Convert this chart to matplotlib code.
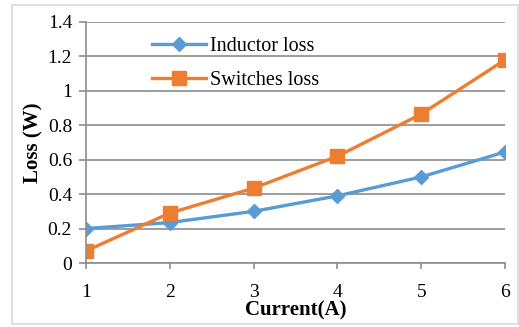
import matplotlib
matplotlib.use("Agg")
import matplotlib.pyplot as plt
from matplotlib.patches import Rectangle

current = [1, 2, 3, 4, 5, 6]
inductor_loss = [0.20, 0.235, 0.30, 0.39, 0.50, 0.645]
switches_loss = [0.07, 0.29, 0.435, 0.62, 0.865, 1.18]
y_ticks = [0, 0.2, 0.4, 0.6, 0.8, 1, 1.2, 1.4]
y_labels = ["0", "0.2", "0.4", "0.6", "0.8", "1", "1.2", "1.4"]

BLUE = "#5B9BD5"
ORANGE = "#ED7D31"
GRID = "#8C8C8C"


def main():
    plt.rcParams["font.family"] = ["Liberation Serif", "DejaVu Serif"]

    fig = plt.figure(figsize=(5.19, 3.27), dpi=100)
    fig.patches.append(Rectangle((12 / 519, 3 / 327), 506 / 519, 319 / 327,
                                 transform=fig.transFigure, fill=False,
                                 edgecolor="#D9D9D9", linewidth=1.2))
    ax = fig.add_axes([86 / 519, 64 / 327, 419 / 519, 241 / 327])

    ax.plot(current, inductor_loss, color=BLUE, linewidth=2.4, marker="D",
            markersize=7.5, label="Inductor loss")
    ax.plot(current, switches_loss, color=ORANGE, linewidth=2.4, marker="s",
            markersize=9.5, label="Switches loss")

    ax.set_xlim(1, 6)
    ax.set_ylim(0, 1.4)
    ax.set_yticks(y_ticks)
    ax.set_yticklabels(y_labels)
    ax.set_xticks(current)
    ax.yaxis.grid(True, color=GRID, linewidth=1.2)
    ax.set_axisbelow(True)

    for side in ["top", "right"]:
        ax.spines[side].set_visible(False)
    for side in ["left", "bottom"]:
        ax.spines[side].set_color(GRID)
        ax.spines[side].set_linewidth(1.2)

    ax.tick_params(axis="y", length=5, width=1.2, color=GRID,
                   labelsize=14, pad=5)
    ax.tick_params(axis="x", length=4, width=1.2, color=GRID,
                   labelsize=14, pad=11)

    ax.set_xlabel("Current(A)", fontsize=15, fontweight="bold", labelpad=0)
    ax.set_ylabel("Loss (W)", fontsize=15, fontweight="bold", labelpad=3)

    ax.legend(loc="upper left", bbox_to_anchor=(0.128, 0.99), frameon=False,
              fontsize=14.5, handlelength=2.7, handletextpad=0.2,
              labelspacing=0.78, borderaxespad=0.2)

    fig.savefig("out.png", dpi=100)


if __name__ == "__main__":
    main()
